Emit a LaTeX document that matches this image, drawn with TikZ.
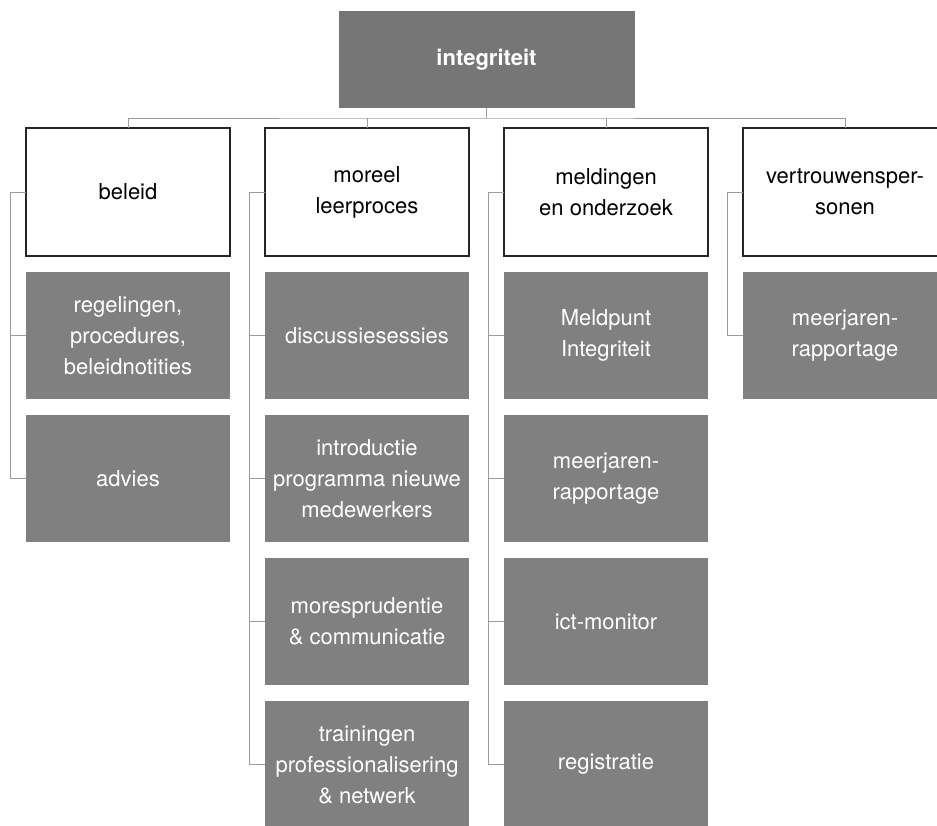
\documentclass[tikz,border=0pt]{standalone}
\usepackage{fontspec}
\setmainfont{TeX Gyre Heros}
\usetikzlibrary{positioning,calc}

\definecolor{vlakgrijs}{HTML}{808080}
\definecolor{lijngrijs}{HTML}{9C9C9C}

\tikzset{
  kop/.style   ={draw=black!85, line width=1.2pt, fill=white, minimum width=204pt,
                 minimum height=128pt, align=center, inner sep=2pt, outer sep=0pt,
                 font=\fontsize{22}{31}\selectfont},
  taak/.style  ={fill=vlakgrijs, text=white, minimum width=204pt, minimum height=127pt,
                 align=center, inner sep=1pt, outer sep=0pt,
                 font=\fontsize{22}{31}\selectfont},
  hoofd/.style ={fill=vlakgrijs!92!black, text=white, minimum width=296pt,
                 minimum height=97pt, outer sep=0pt,
                 font=\bfseries\fontsize{22}{26}\selectfont},
  lijn/.style  ={draw=lijngrijs, line width=0.8pt},
}

\begin{document}
\begin{tikzpicture}[x=1pt, y=1pt, node distance=16pt and 35pt]
  \useasboundingbox (0,0) rectangle (937,-825);
  \clip (0,0) rectangle (937,-825);

  % Define nodes
  \node[kop]                         (beleid)   at (128,-192) {beleid};
  \node[kop,  right=of beleid]       (moreel)   {moreel\\leerproces};
  \node[kop,  right=of moreel]       (melding)  {meldingen\\en onderzoek};
  \node[kop,  right=of melding]      (vertrouw) {vertrouwensper-\\sonen};

  \coordinate (midden) at ($(moreel.north)!0.5!(melding.north)$);
  \node[hoofd, above=20pt of midden] (integ)    {integriteit};

  \node[taak, below=of beleid]       (regeling)    {regelingen,\\procedures,\\beleidnotities};
  \node[taak, below=of regeling]     (advies)      {advies};

  \node[taak, below=of moreel]       (discussie)   {discussiesessies};
  \node[taak, below=of discussie]    (introductie) {introductie\\programma nieuwe\\medewerkers};
  \node[taak, below=of introductie]  (mores)       {moresprudentie\\\& communicatie};
  \node[taak, below=of mores]        (training)    {trainingen\\professionalisering\\\& netwerk};

  \node[taak, below=of melding]      (meldpunt)    {Meldpunt\\Integriteit};
  \node[taak, below=of meldpunt]     (rapport)     {meerjaren-\\rapportage};
  \node[taak, below=of rapport]      (ictmonitor)  {ict-monitor};
  \node[taak, below=of ictmonitor]   (registratie) {registratie};

  \node[taak, below=of vertrouw]     (vprapport)   {meerjaren-\\rapportage};

  % Connect the nodes
  \coordinate (bus) at ($(integ.south)!0.5!(moreel.north)$);
  \draw[lijn] (beleid.north) |- (bus) -| (vertrouw.north);
  \draw[lijn] (integ.south)   -- (integ.south |- bus);
  \draw[lijn] (moreel.north)  -- (moreel.north |- bus);
  \draw[lijn] (melding.north) -- (melding.north |- bus);

  \foreach \kop/\laatste in {beleid/advies, moreel/training, melding/registratie, vertrouw/vprapport}
    \draw[lijn] (\kop.west) -- ++(-16,0) |- (\laatste.west);
  \foreach \n in {regeling, discussie, introductie, mores, meldpunt, rapport, ictmonitor}
    \draw[lijn] (\n.west) -- ++(-16,0);
\end{tikzpicture}
\end{document}
